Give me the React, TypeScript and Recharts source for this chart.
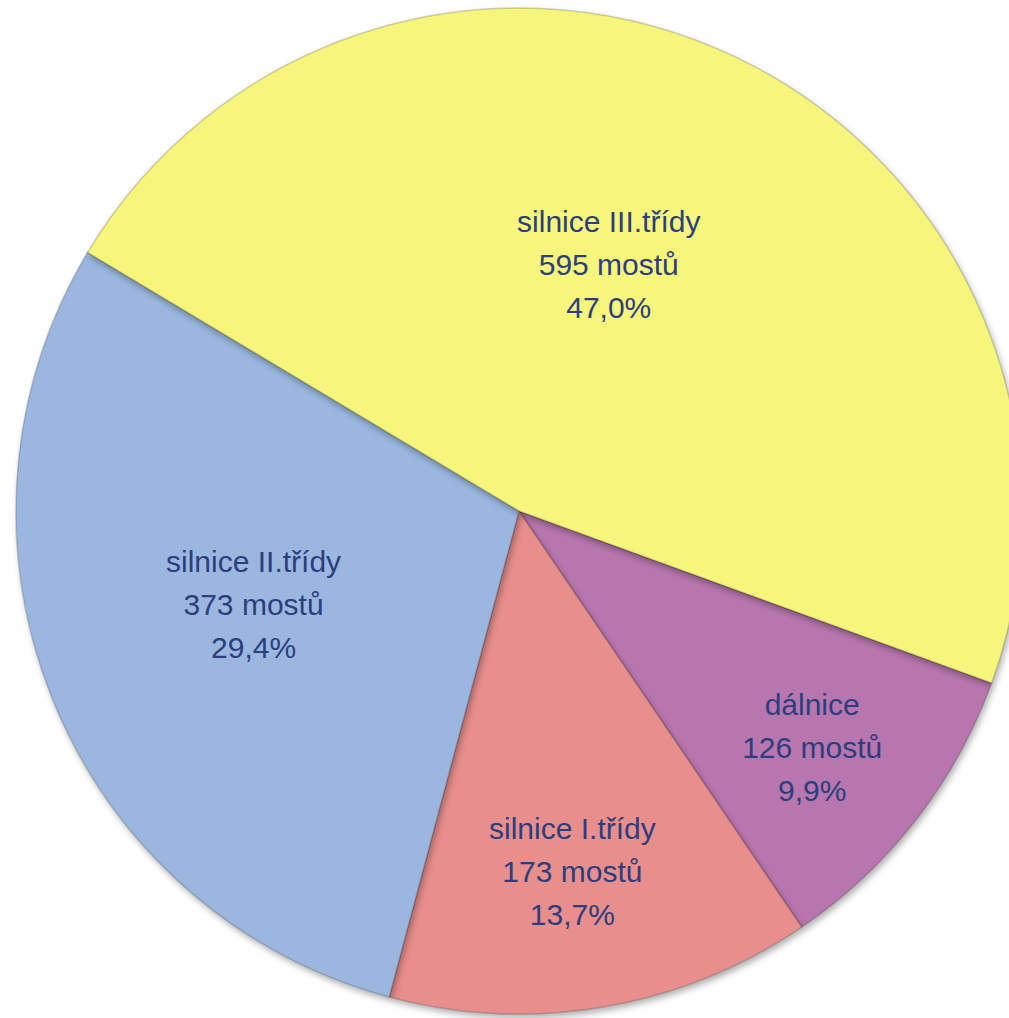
import { Cell, Pie, PieChart } from "recharts"

// Mosty podle kategorie komunikace
const categories = ["dálnice", "silnice I.třídy", "silnice II.třídy", "silnice III.třídy"]
const bridgeCounts = [126, 173, 373, 595]
const sliceColors = ["#B876AE", "#E88E8C", "#9BB7DF", "#F6F67C"]

// umístění popisků (poměr k poloměru, posun úhlu ve stupních)
const labelRadius = [0.75, 0.725, 0.56, 0.52]
const labelShift = [-1.1, -1.2, -2.5, 5.4]

const data = categories.map((name, i) => ({ name, value: bridgeCounts[i] }))

const WIDTH = 1009
const HEIGHT = 1018
const TEXT_COLOR = "#2C3E7E"
const RAD = Math.PI / 180

function renderLabel(props: any) {
  const { cx, cy, midAngle, outerRadius, percent, index, name, value } = props
  const r = outerRadius * labelRadius[index]
  const a = (midAngle + labelShift[index]) * RAD
  const x = cx + r * Math.cos(a)
  const y = cy - r * Math.sin(a)
  const pct = (percent * 100).toFixed(1).replace(".", ",") + "%"
  return (
    <text
      x={x}
      y={y}
      textAnchor="middle"
      fill={TEXT_COLOR}
      fontSize={30}
      fontFamily="'Liberation Sans', Arial, sans-serif"
    >
      <tspan x={x} dy={-33}>{name}</tspan>
      <tspan x={x} dy={43}>{value} mostů</tspan>
      <tspan x={x} dy={43}>{pct}</tspan>
    </text>
  )
}

export default function App() {
  return (
    <div style={{ position: "absolute", left: 0, top: 0, width: WIDTH, height: HEIGHT, overflow: "hidden" }}>
      <PieChart width={WIDTH} height={HEIGHT} margin={{ top: 0, right: 0, bottom: 0, left: 0 }}>
        <defs>
          <filter id="pieShadow" x="-10%" y="-10%" width="120%" height="120%">
            <feDropShadow dx="2" dy="4" stdDeviation="3" floodColor="#000" floodOpacity="0.3" />
          </filter>
        </defs>
        <Pie
          data={data}
          dataKey="value"
          nameKey="name"
          cx={519}
          cy={511}
          outerRadius={503}
          startAngle={-20}
          endAngle={-380}
          stroke="rgba(0,0,0,0.18)"
          strokeWidth={1.5}
          label={renderLabel}
          labelLine={false}
          isAnimationActive={false}
          style={{ filter: "url(#pieShadow)" }}
        >
          {data.map((d, i) => (
            <Cell key={d.name} fill={sliceColors[i]} />
          ))}
        </Pie>
      </PieChart>
    </div>
  )
}
